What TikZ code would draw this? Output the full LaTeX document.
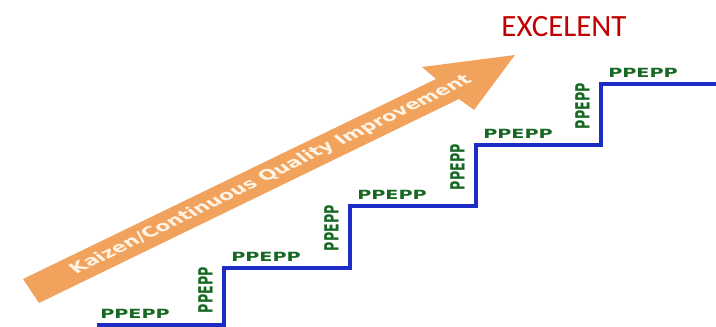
\documentclass[tikz,border=0pt]{standalone}
\usepackage{fontspec}
\usepackage{graphicx}
\newfontfamily\stepfont{DejaVu Sans}
\newfontfamily\titlefont{Carlito}
\definecolor{kzorange}{RGB}{241,163,94}
\definecolor{kzcream}{RGB}{255,244,228}
\definecolor{stairblue}{RGB}{28,44,196}
\definecolor{lblgreen}{RGB}{22,104,34}
\definecolor{excred}{RGB}{192,0,0}

\begin{document}
\begin{tikzpicture}[x=0.025cm,y=-0.025cm,
	hlbl/.style={anchor=south west,inner sep=0pt,text=lblgreen,font=\stepfont\bfseries\fontsize{9}{9}\selectfont},
	vlbl/.style={hlbl,rotate=90,anchor=south east}]
			\useasboundingbox (0,0) rectangle (716,327);
			
			\fill[kzorange] (23,279) -- (436,79) -- (422,67) -- (515,55) -- (474,110) -- (459,99) -- (39,303) -- cycle;
			\begin{scope}[xscale=1.55]
			\node[rotate=37,transform shape,inner sep=0pt,text=kzcream,font=\stepfont\bfseries\fontsize{10}{10}\selectfont] (kaizen) at (174.8,175) {Kaizen/Continuous Quality Improvement};
			\end{scope}
			
			\node[text=excred,font=\titlefont\fontsize{22}{22}\selectfont] (excelent) at (564,27) {EXCELENT};
			
			\draw[stairblue,line width=0.1cm] (97,325) -- (224,325) -- (224,268) -- (350,268) -- (350,206) -- (476,206) -- (476,145) -- (601,145) -- (601,84) -- (716,84);
			
			\node[hlbl] (h1) at (100,319) {\scalebox{1.52}[1]{PPEPP}};
			\foreach \x/\y [count=\i from 2] in {224/268,350/206,476/145,601/84}
			{
			\node[hlbl] (h\i) at (\x+7,\y-6) {\scalebox{1.52}[1]{PPEPP}};
			\node[vlbl] (v\i) at (\x-11,\y-1) {\scalebox{1}[1.55]{PPEPP}};
			}
			\end{tikzpicture}
\end{document}
